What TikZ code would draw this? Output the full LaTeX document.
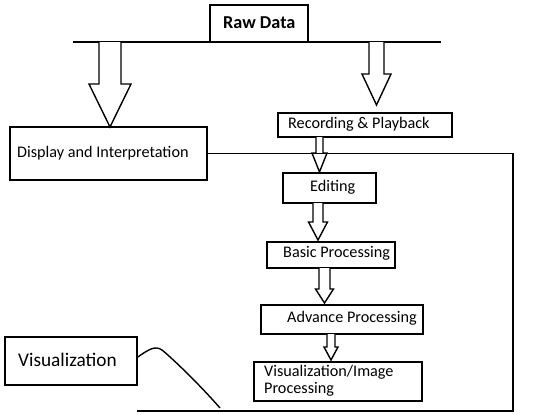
\documentclass[tikz,border=0pt]{standalone}
\usepackage{fontspec}
\setmainfont{Carlito}
\newcommand\hollowarr[6]{%
  \draw[hol] (#1-#2,#3) -- (#1-#2,#4) -- (#1-#5,#4) -- (#1,#6) -- (#1+#5,#4) -- (#1+#2,#4) -- (#1+#2,#3);}
\begin{document}
\begin{tikzpicture}[x=1pt,y=-1pt,
  box/.style={draw,line width=1.6pt,inner sep=0pt},
  txt/.style={anchor=west,inner sep=0pt,font=\fontsize{16.2}{17.5}\selectfont},
  hol/.style={draw,line width=1.4pt,line join=miter,fill=white},
  conn/.style={draw,line width=1.6pt}]
\useasboundingbox[fill=white] (0,0) rectangle (550,415);
% boxes
\node[box,minimum width=98pt,minimum height=37pt] (raw) at (259,23.5) {};
\node[box,minimum width=174pt,minimum height=24pt] (rec) at (365,125) {};
\node[box,minimum width=197pt,minimum height=53pt] (disp) at (108.5,153.5) {};
\node[box,minimum width=93pt,minimum height=30pt] (edit) at (329.5,188) {};
\node[box,minimum width=128pt,minimum height=26pt] (basic) at (331,255) {};
\node[box,minimum width=162pt,minimum height=29pt] (adv) at (342,319.5) {};
\node[box,minimum width=168pt,minimum height=39pt] (vip) at (338,381.5) {};
\node[box,minimum width=132pt,minimum height=48pt] (vis) at (71,361) {};
% texts
\node[txt,font=\fontsize{18.2}{20}\selectfont\bfseries] (trad) at (223,23) {Raw Data};
\node[txt] (trec) at (288,124) {Recording \& Playback};
\node[txt] (tdisp) at (17,153) {Display and Interpretation};
\node[txt] (tedit) at (310,187) {Editing};
\node[txt] (tbasic) at (283,253.5) {Basic Processing};
\node[txt] (tadv) at (287,318) {Advance Processing};
\node[txt,align=left] (tvip) at (264,381) {Visualization/Image\\Processing};
\node[txt,font=\fontsize{19.3}{21}\selectfont] (tvis) at (18,359.5) {Visualization};
% raw data line
\coordinate (l1) at (73,42);
\coordinate (l2) at (441,42);
\draw[conn] (l1) -- (l2);
% hollow arrows
\hollowarr{110}{11}{42}{84}{21}{127}
\hollowarr{376.5}{7.5}{42}{74}{14.5}{105}
\hollowarr{319.5}{3.5}{137}{153}{7.5}{172}
\hollowarr{318}{5}{203}{222}{9.5}{240}
\hollowarr{324.5}{5.5}{268}{289}{9}{303}
\hollowarr{331}{4}{334}{347}{7}{360}
% loop line
\coordinate (c2) at (513,411);
\coordinate (c3) at (137,411);
\draw[conn] (disp.east) -| (c2) -- (c3);
% curve
\coordinate (cend) at (220,408);
\draw[line width=1.4pt] ([yshift=4pt]vis.east) .. controls (148,350) and (155,345) .. (162,350) .. controls (172,358) and (200,385) .. (cend);
\end{tikzpicture}
\end{document}
